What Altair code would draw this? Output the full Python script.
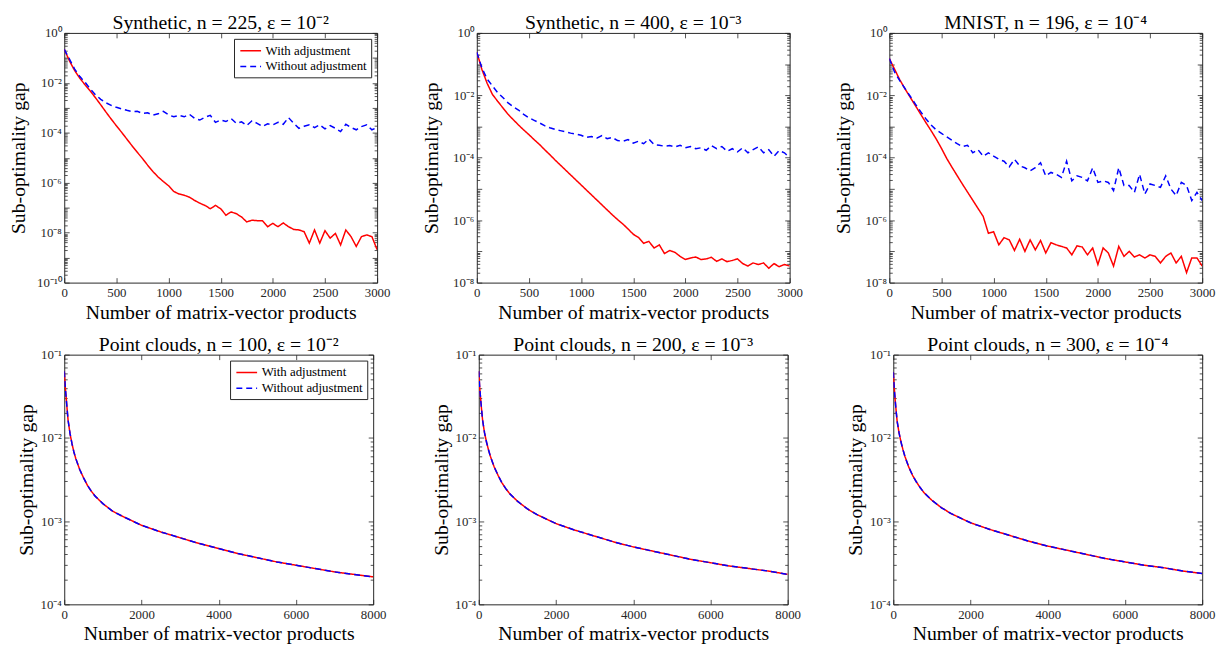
import altair as alt
import pandas as pd

FONT = "Liberation Serif"
RED = "#ff0000"
BLUE = "#0000ff"
INK = "#262626"
SERIES = ["With adjustment", "Without adjustment"]

# x positions (number of matrix-vector products)
X_TOP = list(range(0, 3001, 50))
X_BOT = [0, 25, 50, 75, 100, 150, 200, 250, 300, 400, 500, 600, 700, 800,
         1000, 1250, 1500, 2000, 2500, 3000, 3500, 4000, 4500, 5000, 5500,
         6000, 6500, 7000, 7500, 8000]

# log10 of the sub-optimality gap
SYN225_WITH = [-0.66, -1.12, -1.51, -1.82, -2.08, -2.33, -2.60, -2.88, -3.17, -3.45,
               -3.72, -3.98, -4.25, -4.52, -4.78, -5.03, -5.30, -5.55, -5.77, -5.95,
               -6.12, -6.35, -6.45, -6.50, -6.58, -6.71, -6.82, -6.91, -7.04, -6.91,
               -7.04, -7.30, -7.17, -7.24, -7.37, -7.57, -7.50, -7.52, -7.52, -7.76,
               -7.63, -7.76, -7.61, -7.76, -7.87, -7.89, -7.96, -8.42, -7.89, -8.42,
               -7.92, -8.22, -8.03, -8.49, -7.89, -8.16, -8.55, -8.16, -8.09, -8.16,
               -8.68]
SYN225_WITHOUT = [-0.66, -1.05, -1.45, -1.75, -1.98, -2.25, -2.48, -2.66, -2.80, -2.90,
                  -2.98, -3.04, -3.10, -3.15, -3.14, -3.22, -3.20, -3.29, -3.24, -3.14,
                  -3.28, -3.36, -3.30, -3.36, -3.26, -3.42, -3.49, -3.38, -3.30, -3.58,
                  -3.49, -3.55, -3.43, -3.62, -3.56, -3.71, -3.52, -3.62, -3.75, -3.64,
                  -3.68, -3.58, -3.66, -3.39, -3.62, -3.82, -3.74, -3.68, -3.79, -3.68,
                  -3.84, -3.71, -3.82, -3.95, -3.66, -3.79, -3.88, -3.75, -3.68, -3.88,
                  -3.79]
SYN400_WITH = [-0.62, -1.18, -1.62, -1.97, -2.19, -2.40, -2.61, -2.78, -2.95, -3.11,
               -3.26, -3.42, -3.57, -3.74, -3.90, -4.07, -4.23, -4.39, -4.55, -4.71,
               -4.87, -5.03, -5.19, -5.35, -5.51, -5.67, -5.83, -5.98, -6.12, -6.28,
               -6.45, -6.55, -6.74, -6.68, -6.89, -6.79, -7.07, -6.97, -7.03, -7.16,
               -7.26, -7.21, -7.18, -7.26, -7.24, -7.19, -7.32, -7.24, -7.33, -7.29,
               -7.24, -7.39, -7.47, -7.37, -7.42, -7.37, -7.54, -7.39, -7.49, -7.42,
               -7.47]
SYN400_WITHOUT = [-0.62, -1.13, -1.48, -1.70, -1.91, -2.07, -2.24, -2.37, -2.47, -2.61,
                  -2.72, -2.80, -2.88, -2.97, -3.04, -3.09, -3.13, -3.17, -3.21, -3.24,
                  -3.28, -3.35, -3.32, -3.37, -3.29, -3.39, -3.35, -3.45, -3.47, -3.42,
                  -3.53, -3.47, -3.55, -3.40, -3.58, -3.60, -3.63, -3.61, -3.65, -3.60,
                  -3.68, -3.64, -3.71, -3.68, -3.76, -3.61, -3.71, -3.64, -3.79, -3.71,
                  -3.81, -3.68, -3.84, -3.74, -3.65, -3.84, -3.74, -3.95, -3.77, -3.84,
                  -4.00]
MNIST_WITH = [-0.82, -1.16, -1.50, -1.79, -2.06, -2.33, -2.60, -2.87, -3.13, -3.40,
              -3.70, -4.02, -4.30, -4.57, -4.84, -5.10, -5.36, -5.62, -5.88, -6.42,
              -6.37, -6.79, -6.56, -6.63, -6.97, -6.61, -7.00, -6.63, -6.95, -6.65,
              -7.05, -6.72, -6.79, -6.84, -6.89, -7.11, -6.82, -6.86, -7.11, -6.89,
              -7.42, -6.89, -7.05, -7.47, -6.84, -7.16, -7.00, -7.18, -7.11, -7.21,
              -7.11, -7.16, -7.37, -7.16, -7.05, -7.37, -7.16, -7.68, -7.21, -7.21,
              -7.47]
MNIST_WITHOUT = [-0.82, -1.25, -1.53, -1.78, -2.03, -2.28, -2.52, -2.75, -2.95, -3.11,
                 -3.22, -3.33, -3.44, -3.55, -3.64, -3.60, -3.84, -3.74, -3.95, -3.84,
                 -3.95, -4.05, -4.11, -4.29, -4.05, -4.26, -4.32, -4.42, -4.32, -4.16,
                 -4.58, -4.47, -4.53, -4.63, -4.11, -4.74, -4.58, -4.63, -4.74, -4.32,
                 -4.79, -4.74, -4.79, -5.05, -4.32, -4.89, -4.89, -5.11, -4.53, -5.16,
                 -4.84, -4.89, -4.95, -4.58, -5.00, -5.21, -4.79, -4.89, -5.37, -5.11,
                 -5.37]
PC100_WITH = [-1.20, -1.38, -1.52, -1.66, -1.79, -1.95, -2.07, -2.17, -2.25, -2.38,
              -2.48, -2.57, -2.64, -2.70, -2.79, -2.88, -2.94, -3.05, -3.13, -3.20,
              -3.27, -3.33, -3.39, -3.44, -3.49, -3.53, -3.57, -3.61, -3.64, -3.67]
PC100_WITHOUT = [-1.20, -1.38, -1.52, -1.66, -1.79, -1.95, -2.07, -2.17, -2.25, -2.38,
                 -2.48, -2.57, -2.64, -2.70, -2.79, -2.88, -2.94, -3.05, -3.13, -3.20,
                 -3.27, -3.33, -3.39, -3.44, -3.49, -3.53, -3.57, -3.61, -3.64, -3.67]
PC200_WITH = [-1.20, -1.40, -1.54, -1.67, -1.79, -1.94, -2.05, -2.14, -2.22, -2.35,
              -2.45, -2.54, -2.61, -2.67, -2.76, -2.85, -2.92, -3.03, -3.11, -3.18,
              -3.25, -3.31, -3.36, -3.41, -3.46, -3.50, -3.54, -3.57, -3.60, -3.64]
PC200_WITHOUT = [-1.20, -1.40, -1.54, -1.67, -1.79, -1.94, -2.05, -2.14, -2.22, -2.35,
                 -2.45, -2.54, -2.61, -2.67, -2.76, -2.85, -2.92, -3.03, -3.11, -3.18,
                 -3.25, -3.31, -3.36, -3.41, -3.46, -3.50, -3.54, -3.57, -3.60, -3.64]
PC300_WITH = [-1.21, -1.40, -1.55, -1.68, -1.80, -1.94, -2.05, -2.14, -2.22, -2.35,
              -2.45, -2.53, -2.60, -2.66, -2.75, -2.84, -2.91, -3.02, -3.10, -3.17,
              -3.24, -3.30, -3.35, -3.40, -3.45, -3.49, -3.53, -3.56, -3.60, -3.63]
PC300_WITHOUT = [-1.21, -1.40, -1.55, -1.68, -1.80, -1.94, -2.05, -2.14, -2.22, -2.35,
                 -2.45, -2.53, -2.60, -2.66, -2.75, -2.84, -2.91, -3.02, -3.10, -3.17,
                 -3.24, -3.30, -3.35, -3.40, -3.45, -3.49, -3.53, -3.56, -3.60, -3.63]

TITLES = ["Synthetic, n = 225, ε = 10⁻²", "Synthetic, n = 400, ε = 10⁻³",
          "MNIST, n = 196, ε = 10⁻⁴", "Point clouds, n = 100, ε = 10⁻²",
          "Point clouds, n = 200, ε = 10⁻³", "Point clouds, n = 300, ε = 10⁻⁴"]
X_TITLE = "Number of matrix-vector products"
Y_TITLE = "Sub-optimality gap"

X_TICKS_TOP = [0, 500, 1000, 1500, 2000, 2500, 3000]
X_TICKS_BOT = [0, 2000, 4000, 6000, 8000]
Y_EXP_SYN225 = [0, -2, -4, -6, -8, -10]
Y_LAB_SYN225 = ["10⁰", "10⁻²", "10⁻⁴", "10⁻⁶", "10⁻⁸", "10⁻¹⁰"]
Y_EXP_TOP = [0, -2, -4, -6, -8]
Y_LAB_TOP = ["10⁰", "10⁻²", "10⁻⁴", "10⁻⁶", "10⁻⁸"]
Y_EXP_BOT = [-1, -2, -3, -4]
Y_LAB_BOT = ["10⁻¹", "10⁻²", "10⁻³", "10⁻⁴"]

H = 253


def label_expr(exps, labels):
    expr = "''"
    for e, lab in sorted(zip(exps, labels)):
        expr = f"(datum.value > {10 ** (e - 0.5):.4e} ? '{lab}' : {expr})"
    return expr


def tick_axis(orient, values, size):
    return alt.Axis(orient=orient, values=values, labels=False, domain=False, grid=False,
                    ticks=True, tickSize=size, offset=-size, tickColor=INK,
                    tickWidth=0.8, title=None)


def panel(title, xs, with_vals, without_vals, xdom, xticks, yexp, ylab, legend, ylab_ext,
          width):
    lo, hi = min(yexp), max(yexp)
    xscale = alt.Scale(domain=xdom, nice=False, zero=False)
    yscale = alt.Scale(type="log", domain=[10.0 ** lo, 10.0 ** hi], nice=False)
    rows = []
    for s, vals in zip(SERIES, [with_vals, without_vals]):
        for x, v in zip(xs, vals):
            rows.append({"x": x, "y": 10.0 ** v, "series": s})
    df = pd.DataFrame(rows)

    if legend:
        leg = alt.Legend(title=None, orient="top-right", offset=6, strokeColor=INK,
                         fillColor="white", padding=4, labelFont=FONT, labelFontSize=13,
                         labelColor="black", symbolType="M-0.8,0H2.2", symbolSize=196,
                         symbolStrokeWidth=1.6, rowPadding=1, labelLimit=300,
                         labelOffset=12)
    else:
        leg = None

    base = alt.Chart(df)
    lines = base.mark_line(strokeWidth=1.5, clip=True).encode(
        x=alt.X("x:Q", scale=xscale,
                axis=alt.Axis(orient="bottom", values=xticks, ticks=False, domain=False,
                              grid=False, labelPadding=4, labelFlush=False, format="d",
                              title=X_TITLE, titlePadding=3)),
        y=alt.Y("y:Q", scale=yscale,
                axis=alt.Axis(orient="left", values=[10.0 ** e for e in yexp],
                              labelExpr=label_expr(yexp, ylab), ticks=False, domain=False,
                              grid=False, labelPadding=3, title=Y_TITLE, titlePadding=4,
                              minExtent=ylab_ext, maxExtent=ylab_ext)),
        color=alt.Color("series:N", scale=alt.Scale(domain=SERIES, range=[RED, BLUE]),
                        legend=leg),
        strokeDash=alt.StrokeDash("series:N",
                                  scale=alt.Scale(domain=SERIES, range=[[1, 0], [6, 4]]),
                                  legend=leg),
        order=alt.Order("x:Q"),
    )

    decades = [10.0 ** e for e in range(lo, hi + 1)]
    minors = [d * 10.0 ** e for e in range(lo, hi) for d in range(2, 10)]

    def ylayer(orient, vals, size):
        return base.mark_point(opacity=0).encode(
            x=alt.X("x:Q", scale=xscale, axis=None),
            y=alt.Y("y:Q", scale=yscale, axis=tick_axis(orient, vals, size)))

    def xlayer(orient, size):
        return base.mark_point(opacity=0).encode(
            x=alt.X("x:Q", scale=xscale, axis=tick_axis(orient, xticks, size)),
            y=alt.Y("y:Q", scale=yscale, axis=None))

    layers = [lines,
              ylayer("left", decades, 5), ylayer("left", minors, 3),
              ylayer("right", decades, 5), ylayer("right", minors, 3),
              xlayer("bottom", 5), xlayer("top", 5)]
    return alt.layer(*layers).resolve_axis(x="independent", y="independent").properties(
        width=width, height=H,
        title=alt.TitleParams(title, font=FONT, fontSize=20, fontWeight="normal",
                              color="black", offset=-6, frame="group"))


p1 = panel(TITLES[0], X_TOP, SYN225_WITH, SYN225_WITHOUT, [0, 3000], X_TICKS_TOP,
           Y_EXP_SYN225, Y_LAB_SYN225, True, 32, 317)
p2 = panel(TITLES[1], X_TOP, SYN400_WITH, SYN400_WITHOUT, [0, 3000], X_TICKS_TOP,
           Y_EXP_TOP, Y_LAB_TOP, False, 32, 317)
p3 = panel(TITLES[2], X_TOP, MNIST_WITH, MNIST_WITHOUT, [0, 3000], X_TICKS_TOP,
           Y_EXP_TOP, Y_LAB_TOP, False, 32, 317)
p4 = panel(TITLES[3], X_BOT, PC100_WITH, PC100_WITHOUT, [0, 8000], X_TICKS_BOT,
           Y_EXP_BOT, Y_LAB_BOT, True, 24, 313)
p5 = panel(TITLES[4], X_BOT, PC200_WITH, PC200_WITHOUT, [0, 8000], X_TICKS_BOT,
           Y_EXP_BOT, Y_LAB_BOT, False, 24, 313)
p6 = panel(TITLES[5], X_BOT, PC300_WITH, PC300_WITHOUT, [0, 8000], X_TICKS_BOT,
           Y_EXP_BOT, Y_LAB_BOT, False, 24, 313)

top = alt.hconcat(p1, p2, p3, spacing=30).resolve_scale(color="independent",
                                                         strokeDash="independent")
bottom = alt.hconcat(p4, p5, p6, spacing=44).resolve_scale(color="independent",
                                                            strokeDash="independent")
chart = alt.concat(top, bottom, columns=1, align="none", spacing=11, padding=0).resolve_scale(
    color="independent", strokeDash="independent"
).configure_view(stroke=INK, strokeWidth=1).configure_axis(
    labelFont=FONT, labelFontSize=13, labelColor=INK, titleFont=FONT, titleFontSize=20,
    titleFontWeight="normal", titleColor="black"
)

chart.save("out.html", embed_options={"renderer": "svg", "actions": False})
